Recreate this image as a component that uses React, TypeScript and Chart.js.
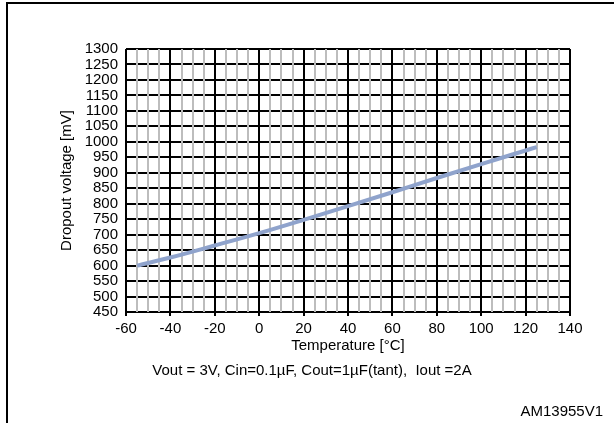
import React, { useEffect, useRef } from "react";
import { Chart, registerables } from "chart.js";

Chart.register(...registerables);

const temperatures = [-55, -40, -20, 0, 20, 40, 60, 80, 100, 120, 125];
const dropoutMv = [600, 626, 665, 705, 748, 792, 837, 883, 928, 972, 983];

const xTitle = "Temperature [°C]";
const yTitle = "Dropout voltage [mV]";
const conditionText = "Vout = 3V, Cin=0.1µF, Cout=1µF(tant),  Iout =2A";
const figureId = "AM13955V1";

const FONT = "'Liberation Sans', Arial, Helvetica, sans-serif";
const FS = 15;

const extrasPlugin = {
  id: "extras",
  beforeDraw(chart: any) {
    const ctx = chart.ctx;
    ctx.save();
    ctx.fillStyle = "#fff";
    ctx.fillRect(0, 0, chart.width, chart.height);
    ctx.fillStyle = "#000";
    ctx.fillRect(6, 2, 2, chart.height);
    ctx.fillRect(6, 2, chart.width, 2);
    ctx.restore();
  },
  afterDraw(chart: any) {
    const ctx = chart.ctx;
    ctx.save();
    ctx.fillStyle = "#000";
    ctx.font = `${FS}px ${FONT}`;
    ctx.textBaseline = "middle";
    ctx.textAlign = "center";
    ctx.fillText(conditionText, 312, 371);
    ctx.textAlign = "right";
    ctx.fillText(figureId, 603, 412);
    ctx.restore();
  },
};

export default function App() {
  const ref = useRef<HTMLCanvasElement | null>(null);

  useEffect(() => {
    if (!ref.current) return;
    const points = temperatures.map((t, i) => ({ x: t, y: dropoutMv[i] }));
    const chart = new Chart(ref.current, {
      type: "line",
      data: {
        datasets: [
          {
            data: points,
            borderColor: "rgb(143,163,204)",
            borderWidth: 4,
            pointRadius: 0,
            cubicInterpolationMode: "monotone",
            fill: false,
          },
        ],
      },
      options: {
        animation: false,
        responsive: false,
        maintainAspectRatio: false,
        events: [],
        layout: { padding: { top: 49, right: 44, left: 0, bottom: 0 } },
        plugins: { legend: { display: false }, tooltip: { enabled: false } },
        scales: {
          y: {
            type: "linear",
            min: 450,
            max: 1300,
            afterFit: (s: any) => {
              s.width = 126;
            },
            ticks: {
              stepSize: 50,
              autoSkip: false,
              color: "#000",
              padding: 8,
              font: { family: FONT, size: FS },
              callback: (v: any) => String(v),
            },
            grid: { color: "#000", lineWidth: 2, drawTicks: false, z: -2 },
            border: { display: false },
            title: {
              display: true,
              text: yTitle,
              color: "#000",
              font: { family: FONT, size: FS },
              padding: { top: 58, bottom: 0 },
            },
          },
          x: {
            type: "linear",
            min: -60,
            max: 140,
            afterFit: (s: any) => {
              s.height = 111;
            },
            ticks: {
              stepSize: 5,
              autoSkip: false,
              maxRotation: 0,
              color: "#000",
              padding: 4,
              font: { family: FONT, size: FS },
              callback: (v: any) => (Number(v) % 20 === 0 ? String(v) : ""),
            },
            grid: {
              color: (c: any) => (c.tick && c.tick.value % 20 === 0 ? "#000" : "#bdbdbd"),
              tickColor: (c: any) =>
                c.tick && c.tick.value % 20 === 0 ? "#000" : "rgba(0,0,0,0)",
              lineWidth: 2,
              tickLength: 4,
              z: -1,
            },
            border: { display: false },
            title: {
              display: true,
              text: xTitle,
              color: "#000",
              font: { family: FONT, size: FS },
              padding: { top: 0, bottom: 68 },
            },
          },
        },
      },
      plugins: [extrasPlugin],
    } as any);
    return () => chart.destroy();
  }, []);

  return (
    <div style={{ position: "absolute", left: 0, top: 0, width: 614, height: 423 }}>
      <canvas ref={ref} width={614} height={423} style={{ width: 614, height: 423, display: "block" }} />
    </div>
  );
}
